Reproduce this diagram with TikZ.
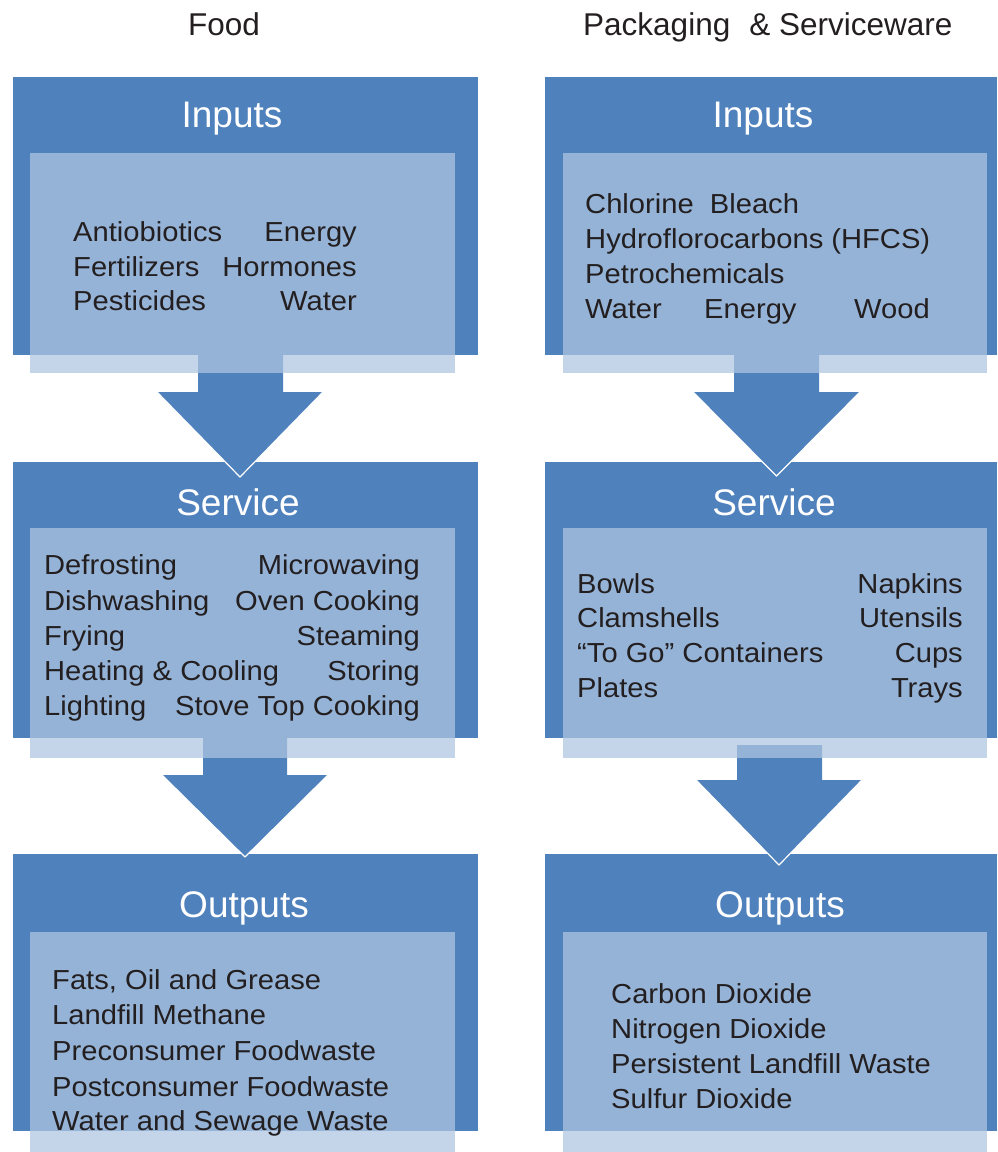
\documentclass[tikz,border=0pt]{standalone}
\usepackage{fontspec}
\setmainfont{Liberation Sans}
\newfontfamily\bodyfont[FakeStretch=1.06]{Liberation Sans}
\definecolor{dark}{HTML}{4F81BD}
\definecolor{innerc}{RGB}{175,198,225}
\definecolor{txt}{HTML}{231F20}
\newcommand\myarrow[7]{%
  \fill[dark] (#1,#3) -- (#2,#3) -- (#2,#4) -- (#6,#4) -- ({(#5+#6)/2},#7) -- (#5,#4) -- (#1,#4) -- cycle;
  \draw[white, line width=1.2pt, line join=round] (#6,#4) -- ({(#5+#6)/2},#7) -- (#5,#4);
}
\begin{document}
\begin{tikzpicture}[x=1pt,y=-1pt,
  outerbox/.style={fill=dark},
  innerbox/.style={fill=innerc, fill opacity=0.73},
  head/.style={font=\fontsize{31.5}{34}\selectfont, text=txt, inner sep=0pt, anchor=base west},
  title/.style={font=\fontsize{37}{40}\selectfont, text=white, inner sep=0pt, anchor=base},
  item/.style={font=\bodyfont\fontsize{27.5}{33}\selectfont, text=txt, inner sep=0pt, anchor=base west},
  itemr/.style={item, anchor=base east}]
\useasboundingbox (0,0) rectangle (997,1152);
\fill[white] (0,0) rectangle (997,1152);

% outer boxes
\fill[outerbox] (13,77) rectangle (478,355);
\fill[outerbox] (545,77) rectangle (997,355);
\fill[outerbox] (13,462) rectangle (478,738);
\fill[outerbox] (545,462) rectangle (997,738);
\fill[outerbox] (13,854) rectangle (478,1131);
\fill[outerbox] (545,854) rectangle (997,1131);

% block arrows
\myarrow{198}{283}{355}{392}{157}{323}{477}
\myarrow{734}{819}{355}{392}{693}{860}{476}
\myarrow{203}{287}{738}{775}{162}{328}{857}
\myarrow{737}{822}{745}{780}{696}{862}{865}

% inner boxes
\fill[innerbox] (30,153) rectangle (455,373);
\fill[innerbox] (563,153) rectangle (987,373);
\fill[innerbox] (30,528) rectangle (455,758);
\fill[innerbox] (563,528) rectangle (987,758);
\fill[innerbox] (30,932) rectangle (455,1152);
\fill[innerbox] (563,932) rectangle (987,1152);

% headers
\node[head] (hfood) at (188,35) {Food};
\node[head] (hpack) at (583,35) {Packaging\hspace{19pt}\& Serviceware};

% titles
\node[title] (tin1) at (232,127) {Inputs};
\node[title] (tin2) at (763,127) {Inputs};
\node[title] (tsv1) at (238,515) {Service};
\node[title] (tsv2) at (774,515) {Service};
\node[title] (tou1) at (244,917) {Outputs};
\node[title] (tou2) at (780,917) {Outputs};

% left inputs
\node[item] (a1) at (73,241) {Antiobiotics};
\node[itemr] (a2) at (357,241) {Energy};
\node[item] (a3) at (73,276) {Fertilizers};
\node[itemr] (a4) at (357,276) {Hormones};
\node[item] (a5) at (73,310) {Pesticides};
\node[itemr] (a6) at (357,310) {Water};

% right inputs
\node[item] (b1) at (585,213) {Chlorine\ \ Bleach};
\node[item] (b2) at (585,248) {Hydroflorocarbons (HFCS)};
\node[item] (b3) at (585,283) {Petrochemicals};
\node[item] (b4) at (585,318) {Water};
\node[item] (b5) at (704,318) {Energy};
\node[item] (b6) at (854,318) {Wood};

% left service
\node[item] (c1) at (44,574) {Defrosting};
\node[itemr] (c2) at (420,574) {Microwaving};
\node[item] (c3) at (44,610) {Dishwashing};
\node[itemr] (c4) at (420,610) {Oven Cooking};
\node[item] (c5) at (44,645) {Frying};
\node[itemr] (c6) at (420,645) {Steaming};
\node[item] (c7) at (44,680) {Heating \& Cooling};
\node[itemr] (c8) at (420,680) {Storing};
\node[item] (c9) at (44,715) {Lighting};
\node[itemr] (c10) at (420,715) {Stove Top Cooking};

% right service
\node[item] (d1) at (577,593) {Bowls};
\node[itemr] (d2) at (963,593) {Napkins};
\node[item] (d3) at (577,627) {Clamshells};
\node[itemr] (d4) at (963,627) {Utensils};
\node[item] (d5) at (577,662) {“To Go” Containers};
\node[itemr] (d6) at (963,662) {Cups};
\node[item] (d7) at (577,697) {Plates};
\node[itemr] (d8) at (963,697) {Trays};

% left outputs
\node[item] (e1) at (52,989) {Fats, Oil and Grease};
\node[item] (e2) at (52,1024) {Landfill Methane};
\node[item] (e3) at (52,1060) {Preconsumer Foodwaste};
\node[item] (e4) at (52,1096) {Postconsumer Foodwaste};
\node[item] (e5) at (52,1130) {Water and Sewage Waste};

% right outputs
\node[item] (f1) at (611,1003) {Carbon Dioxide};
\node[item] (f2) at (611,1038) {Nitrogen Dioxide};
\node[item] (f3) at (611,1073) {Persistent Landfill Waste};
\node[item] (f4) at (611,1108) {Sulfur Dioxide};
\end{tikzpicture}
\end{document}
